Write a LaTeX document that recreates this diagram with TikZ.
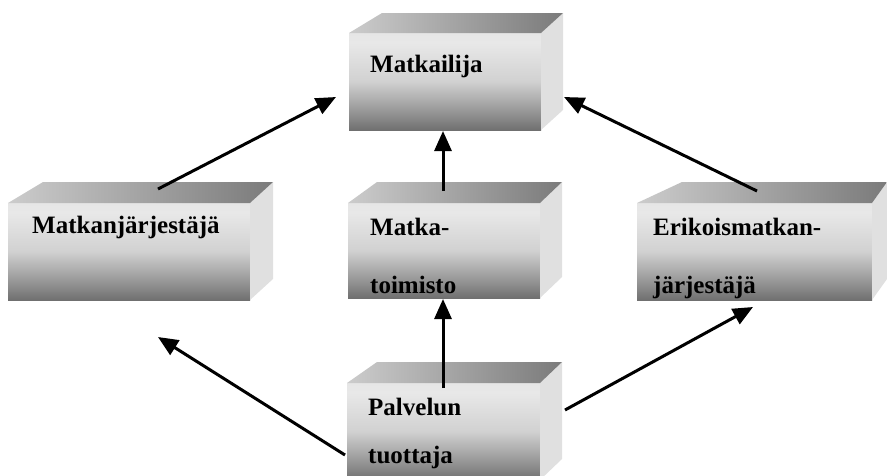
\documentclass[tikz,border=0pt]{standalone}
\usepackage{fontspec}
\setmainfont{Liberation Serif}
\usetikzlibrary{arrows.meta}

% front of each block: light at the top, dark towards the base
\pgfdeclareverticalshading{frontfade}{100bp}{%
  color(0bp)=(black!85); color(14bp)=(black!74); color(32bp)=(black!45);
  color(50bp)=(black!18); color(70bp)=(black!9); color(100bp)=(black!14)}

% #1 name, #2/#3 top-left of the front face, #4/#5 bottom-right,
% #6 depth offset at the left edge, #7 at the right edge, #8 rise of the top face
\newcommand\solidbox[8]{%
  \node[frontface, minimum width={(#4-#2)*1pt}, minimum height={(#5-#3)*1pt}]
    (#1) at ({(#2+#4)/2},{(#3+#5)/2}) {};
  \fill[sideface] (#1.north east) -- ++(#7,-#8) -- ++(0,{#5-#3}) -- (#1.south east) -- cycle;
  \shade[topface] (#1.north west) -- ++(#6,-#8) -- ++({#4-#2-#6+#7},0) -- (#1.north east) -- cycle;
}

\tikzset{
  frontface/.style={shading=frontfade, inner sep=0pt, outer sep=0pt},
  sideface/.style={fill=black!12},
  topface/.style={left color=black!20, right color=black!52},
  lbl/.style={font=\fontsize{25}{30}\selectfont\bfseries, inner sep=0pt, anchor=base west},
  flow/.style={line width=3pt, -{Triangle[length=20pt,width=17pt]}}
}

\begin{document}
\begin{tikzpicture}[x=1pt, y=-1pt]
  \useasboundingbox (0,0) rectangle (887,475);

  % blocks
  \solidbox{tourist}{349}{33}{541}{130}{33}{22}{20}
  \solidbox{operator}{8}{203}{250}{300}{35}{23}{21}
  \solidbox{agency}{348}{203}{540}{298}{29}{22}{21}
  \solidbox{special}{637}{203}{872}{300}{45}{15}{21}
  \solidbox{producer}{347}{383}{540}{480}{30}{22}{21}

  % block labels
  \node[lbl] (touristA) at (370,72) {Matkailija};
  \node[lbl] (operatorA) at (32,233) {Matkanjärjestäjä};
  \node[lbl] (agencyA) at (370,235) {Matka-};
  \node[lbl] (agencyB) at (370,293) {toimisto};
  \node[lbl] (specialA) at (653,235) {Erikoismatkan-};
  \node[lbl] (specialB) at (653,293) {järjestäjä};
  \node[lbl] (producerA) at (368,415) {Palvelun};
  \node[lbl] (producerB) at (368,463) {tuottaja};

  % connector ends
  \coordinate (touristW) at (336,97);
  \coordinate (touristS) at (443,131);
  \coordinate (touristE) at (564,97);
  \coordinate (operatorT) at (158,189);
  \coordinate (operatorS) at (158,337);
  \coordinate (agencyT) at (443,191);
  \coordinate (agencyS) at (443,299);
  \coordinate (specialT) at (757,191);
  \coordinate (specialS) at (753,307);
  \coordinate (producerW) at (345,455);
  \coordinate (producerT) at (443,388);
  \coordinate (producerE) at (565,410);

  % flows
  \draw[flow] (operatorT) -- (touristW);
  \draw[flow] (agencyT) -- (touristS);
  \draw[flow] (specialT) -- (touristE);
  \draw[flow] (producerW) -- (operatorS);
  \draw[flow] (producerT) -- (agencyS);
  \draw[flow] (producerE) -- (specialS);
\end{tikzpicture}
\end{document}
